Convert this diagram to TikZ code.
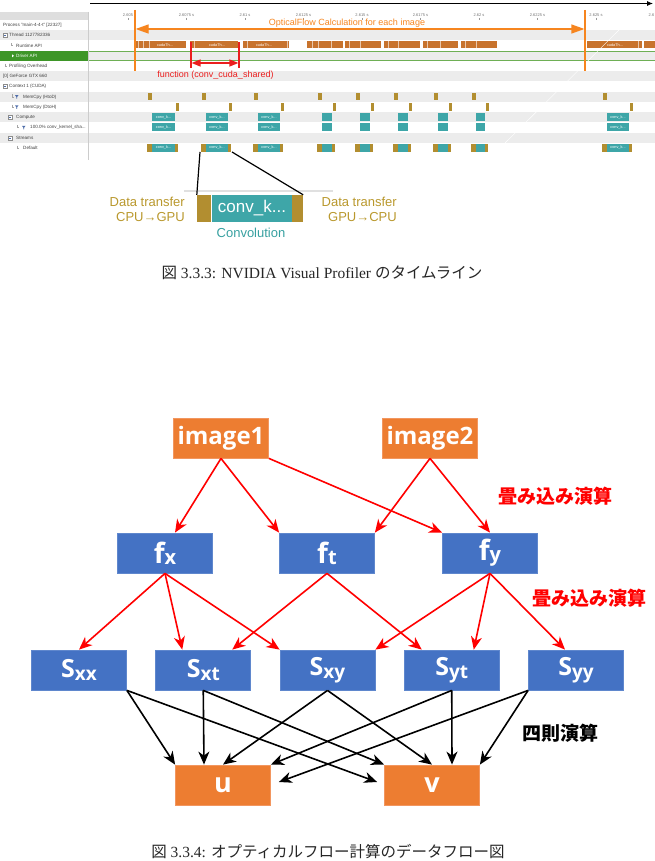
\documentclass[tikz,border=0pt]{standalone}
\usepackage{fontspec}
\setmainfont{Liberation Serif}
\setsansfont{Liberation Sans}
\newfontfamily\jpfont{Noto Sans CJK JP}
\newfontfamily\boxfont{Open Sans}
\usetikzlibrary{positioning,arrows.meta,calc}

\definecolor{rowgray}{RGB}{236,236,236}
\definecolor{hdgray}{RGB}{222,222,222}
\definecolor{drvgreen}{RGB}{62,150,40}
\definecolor{lngreen}{RGB}{110,175,85}
\definecolor{rtorange}{RGB}{200,115,45}
\definecolor{ofaorange}{RGB}{246,133,31}
\definecolor{redA}{RGB}{255,0,0}
\definecolor{redB}{RGB}{235,30,30}
\definecolor{kgold}{RGB}{178,142,48}
\definecolor{kteal}{RGB}{62,166,168}
\definecolor{txgold}{RGB}{185,152,45}
\definecolor{txteal}{RGB}{55,160,160}
\definecolor{funnel}{RGB}{80,110,170}
\definecolor{blueBox}{RGB}{68,114,196}
\definecolor{blueEdge}{RGB}{95,135,205}
\definecolor{orgBox}{RGB}{237,125,49}
\definecolor{orgEdge}{RGB}{242,150,95}

\newcommand{\fsz}[1]{\fontsize{#1}{\fpeval{1.17*#1}}\selectfont}
\newcommand{\fvar}[1]{{\fsz{28}f}\raisebox{-1pt}{\fsz{20}#1}}
\newcommand{\svar}[1]{{\fsz{25}S}\raisebox{-2.5pt}{\fsz{19}#1}}
\newcommand{\tdots}{...}

\begin{document}
\begin{tikzpicture}[
  x=1pt, y=-1pt,
  lbl/.style={font=\sffamily\fsz{4.6}, text=black!75, anchor=west, inner sep=0pt},
  tmark/.style={font=\sffamily\fsz{4}, text=black!55, inner sep=0pt},
  bartx/.style={font=\sffamily\fsz{3.8}, text=white, inner sep=0pt},
  blk/.style={draw=blueEdge, line width=0.8pt, fill=blueBox, text=white,
              minimum width=95pt, minimum height=40pt, inner sep=0pt,
              font=\boxfont\bfseries\fsz{24}},
  org/.style={blk, draw=orgEdge, fill=orgBox},
  conv/.style={draw=redA, line width=1.6pt, -{Stealth[length=13pt,width=11pt,inset=4pt]}},
  arith/.style={conv, draw=black},
  note/.style={font=\jpfont\bfseries\fsz{19}},
  capt/.style={font=\fsz{15.5}, text=black!85},
]
\useasboundingbox (0,0) rectangle (655,861);

% ---- profiler screenshot: rows and label panel
\fill[hdgray] (0,12) rectangle (88,20);
\foreach \r in {1,3,...,11}
  \fill[rowgray] (0,{20+10.25*\r}) rectangle (655,{30.25+10.25*\r});
\fill[drvgreen] (0,50.75) rectangle (88,61);
\draw[lngreen, line width=0.7pt] (88,51) -- (655,51) (88,60.5) -- (655,60.5);
\draw[black!20, line width=0.5pt] (88.5,12) -- (88.5,160);

% time axis
\coordinate (t0) at (90,3.5);
\coordinate (t1) at (653,3.5);
\draw[line width=0.8pt, -{Latex[length=6pt,width=5pt]}] (t0) -- (t1);
\foreach \t [count=\i from 0] in {2.605,2.6075 s,2.61 s,2.6125 s,2.615 s,2.6175 s,2.62 s,2.6225 s,2.625 s}{
  \node[tmark] (tk\i) at ({128+58.5*\i},15) {\t};
  \draw[black!40, line width=0.3pt] ({128+58.5*\i},18) -- ++(0,2);
}
\node[tmark, anchor=west] (tk9) at (648.5,15) {2.6};

% row labels
\foreach \r/\x/\t in {0/3/Process "main-4-4-t" [22327], 1/9/Thread 1127782336,
    2/16/Runtime API, 4/9/Profiling Overhead, 5/3/[0] GeForce GTX 660,
    6/9/Context 1 (CUDA), 7/23/MemCpy (HtoD), 8/23/MemCpy (DtoH), 9/16/Compute,
    10/30/100.0\% conv\_kernel\_sha\tdots, 11/16/Streams, 12/23/Default}
  \node[lbl] (row\r) at (\x,{25.1+10.25*\r}) {\t};
\node[lbl, text=white] (row3) at (16,55.85) {Driver API};
\fill[white] (12,54.35) -- ++(2,1.5) -- ++(-2,1.5) -- cycle;
\foreach \r/\x in {1/3,6/3,9/8,11/8}{
  \draw[black!45, fill=white, line width=0.3pt] (\x,{23.1+10.25*\r}) rectangle ++(4,4);
  \draw[funnel, line width=0.4pt] ({\x+1},{25.1+10.25*\r}) -- ++(2,0);
}
\foreach \r/\x in {2/11,4/5,7/12,8/12,10/17,12/17}
  \draw[black!35, line width=0.3pt] (\x,{22.6+10.25*\r}) -- ++(0,2.5) -- ++(2,0);
\foreach \r/\x in {7/15,8/15,10/22}
  \fill[funnel] (\x,{23.3+10.25*\r}) -- ++(3.5,0) -- ++(-1.4,2) -- ++(0,1.6)
    -- ++(-0.7,0) -- ++(0,-1.6) -- cycle;

% runtime API calls
\foreach \a/\b in {135/186,190/238,243/289,307/343,345/381,384/420,423/458,461/497,587/642,644/655}
  \fill[rtorange] (\a,41.5) rectangle (\b,48.5);
\foreach \x in {138,143,149,194,247,287,312,318,331,349,360,388,398,427,440,465,476,638}
  \draw[white!60!rtorange, line width=0.4pt] (\x,41.5) -- (\x,48.5);
\foreach \x [count=\i] in {165,217,264,615}
  \node[bartx] (rt\i) at (\x,45) {cudaTh\tdots};

% memcpy and kernels
\foreach \h/\d/\k [count=\i] in {148/177/1,202/230/1,254/282/1,318/334/0,356/372/0,394/410/0,434/450/0,472/487/0,603/631/1}{
  \fill[kgold] (\h,93) rectangle ++(3.5,7.5);
  \fill[kgold] ({\d-1.5},103.5) rectangle ++(3.5,7.5);
  \fill[kteal] ({\h+4},113.5) rectangle ({\d-2},121.5);
  \fill[kteal] ({\h+4},123.5) rectangle ({\d-2},131.5);
  \fill[kgold] ({\h-1},144) rectangle ({\d+1},152);
  \fill[kteal] ({\h+4},144) rectangle ({\d-2},152);
  \ifnum\k=1
    \node[bartx] (kc\i) at ({(\h+\d)/2+1},117.5) {conv\_k\tdots};
    \node[bartx] (kn\i) at ({(\h+\d)/2+1},127.5) {conv\_k\tdots};
    \node[bartx] (kd\i) at ({(\h+\d)/2+1},148) {conv\_k\tdots};
  \fi
}
\draw[white, line width=0.4pt] (620,29) -- (505,143);

% one image
\draw[ofaorange, line width=1.3pt] (135,10) -- (135,71) (585,10) -- (585,71);
\coordinate (ofa) at (135.6,29);
\coordinate (ofb) at (584.4,29);
\draw[ofaorange, line width=1.2pt, {Triangle[length=13pt,width=9pt]}-{Triangle[length=13pt,width=9pt]}] (ofa) -- (ofb);
\node[font=\sffamily\fsz{9}, text=ofaorange, inner sep=0pt] (ofl) at (347,23.5) {OpticalFlow Calculation for each image};

% one function call
\draw[redB, line width=1.3pt] (191,42) -- (191,68) (239,42) -- (239,68);
\coordinate (fna) at (191.6,63);
\coordinate (fnb) at (238.4,63);
\draw[redB, line width=1.3pt, {Triangle[length=9pt,width=7pt]}-{Triangle[length=9pt,width=7pt]}] (fna) -- (fnb);
\node[font=\sffamily\fsz{9}, text=redB, inner sep=0pt] (fnl) at (215.5,75.5) {function (conv\_cuda\_shared)};

% enlarged kernel
\draw[black!12, line width=2pt] (184,190.5) -- (333,190.5);
\node[fill=kgold, minimum width=14pt, minimum height=27pt, inner sep=0pt] (cin) at (204,208.5) {};
\node[fill=kteal, minimum width=80pt, minimum height=27pt, inner sep=0pt, text=white,
      font=\sffamily\fsz{17}] (ker) at (252,208.5) {conv\_k\tdots};
\node[fill=kgold, minimum width=11pt, minimum height=27pt, inner sep=0pt] (cout) at (297.5,208.5) {};
\coordinate (db1) at (200,152);
\coordinate (db2) at (232,152);
\draw[line width=1.2pt] (db1) -- (cin.north west);
\draw[line width=1.2pt] (db2) -- (cout.north east);
\node[font=\sffamily\fsz{13}, text=txgold, align=right, anchor=east, inner sep=0pt] (dtin) at (185,209.5) {Data transfer\\CPU→GPU};
\node[font=\sffamily\fsz{13}, text=txgold, align=right, anchor=east, inner sep=0pt] (dtout) at (397,209.5) {Data transfer\\GPU→CPU};
\node[font=\sffamily\fsz{13}, text=txteal, inner sep=0pt] (convl) at (251,233) {Convolution};

\node[capt] (cap1) at (322,273) {{\jpfont 図} 3.3.3: NVIDIA Visual Profiler {\jpfont のタイムライン}};

% ---- data flow
\node[org] (img1) at (221,438) {image1};
\node[org] (img2) at (430,438) {image2};
\node[blk] (fx) at (165,553) {\fvar{x}};
\node[blk] (ft) at (327,553) {\fvar{t}};
\node[blk] (fy) at (490,553) {\fvar{y}};
\foreach \n/\s [count=\i from 0] in {sxx/xx,sxt/xt,sxy/xy,syt/yt,syy/yy}
  \node[blk] (\n) at ({79+124.25*\i},670) {\svar{\s}};
\node[org, font=\boxfont\bfseries\fsz{27}] (u) at (223,785) {u};
\node[org, font=\boxfont\bfseries\fsz{27}] (v) at (432,785) {v};

% convolutions
\draw[conv] (img1.south) -- ($(fx.north)+(10,0)$);
\draw[conv] (img1.south) -- (ft.north west);
\draw[conv] (img1.south east) -- (fy.north west);
\draw[conv] (img2.south) -- (ft.north east);
\draw[conv] (img2.south) -- (fy.north);
\draw[conv] (fx.south) -- (sxx.north);
\draw[conv] (fx.south) -- ($(sxt.north)+(-21,0)$);
\draw[conv] (fx.south) -- (sxy.north west);
\draw[conv] (ft.south) -- ($(sxt.north)+(29,0)$);
\draw[conv] (ft.south) -- ($(syt.north)+(-30,0)$);
\draw[conv] (fy.south) -- (sxy.north east);
\draw[conv] (fy.south) -- ($(syt.north)+(22,0)$);
\draw[conv] (fy.south) -- ($(syy.north)+(-11,0)$);

% arithmetic
\draw[arith] (sxx.south east) -- (u.north west);
\draw[arith] (sxx.south east) -- ($(v.west)+(-7,-3)$);
\draw[arith] (sxt.south) -- ($(u.north)+(-19,0)$);
\draw[arith] (sxt.south) -- (v.north west);
\draw[arith] (sxy.south) -- (u.north);
\draw[arith] (sxy.south) -- (v.north);
\draw[arith] (syt.south) -- (u.north east);
\draw[arith] (syt.south) -- ($(v.north)+(20,0)$);
\draw[arith] (syy.south west) -- ($(u.east)+(8,-3)$);
\draw[arith] (syy.south west) -- (v.north east);

\node[note, text=redA] (nconv1) at (555,496) {畳み込み演算};
\node[note, text=redA] (nconv2) at (589,598) {畳み込み演算};
\node[note] (narith) at (560,733) {四則演算};

\node[capt] (cap2) at (328,852) {{\jpfont 図} 3.3.4: {\jpfont オプティカルフロー計算のデータフロー図}};
\end{tikzpicture}
\end{document}
